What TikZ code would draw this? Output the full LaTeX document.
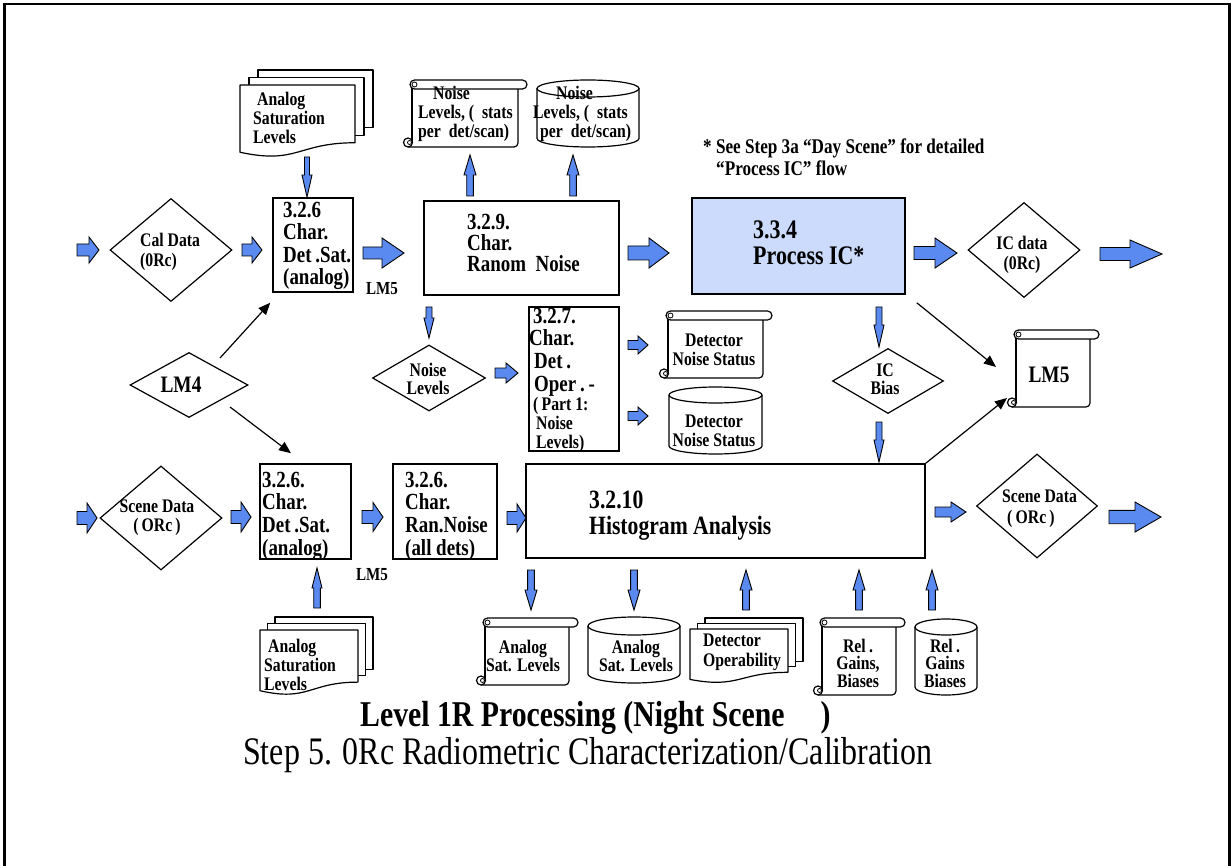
\documentclass[tikz,border=0pt]{standalone}
\usepackage{fontspec}
\setmainfont{Liberation Serif}[FakeStretch=0.82]
\usetikzlibrary{shapes.geometric,arrows.meta}
\definecolor{arrowblue}{RGB}{90,138,240}
\definecolor{icfill}{RGB}{204,219,252}
\newcommand{\fsz}[2]{\fontsize{#1}{#2}\selectfont}
% block arrow: angle, tail x, tail y, length, half shaft, half head, head length
\newcommand{\blkarrow}[7]{%
  \begin{scope}[shift={(#2,#3)},rotate=#1]
    \draw[barrow] (0,-#5) -- (#4-#7,-#5) -- (#4-#7,-#6) -- (#4,0) -- (#4-#7,#6) -- (#4-#7,#5) -- (0,#5) -- cycle;
  \end{scope}}
% vertical scroll: x0 y0 x1 y1
\newcommand{\scrollsym}[4]{%
  \fill[white] (#1+9,#2+4) rectangle (#3-9,#4);
  \draw[shp, rounded corners=4pt] (#1+5,#4) -- (#3-9,#4) -- (#3-9,#2+6);
  \draw[shp] (#1+9,#2+6) -- (#1+9,#4-4);
  \draw[shp, fill=white] (#1+5,#4-4.5) circle[radius=4.5];
  \draw[shp, line width=0.8pt] (#1+6.5,#4-4.5) circle[radius=2];
  \draw[shp, fill=white, rounded corners=4.5pt] (#1+7,#2) rectangle (#3,#2+9);
  \draw[shp, line width=0.8pt] (#1+11.5,#2+4.5) circle[radius=2.5];}
% cylinder: x0 y0 x1 y1 ry
\newcommand{\cylsym}[5]{%
  \pgfmathsetmacro\cylcx{(#1+#3)/2}
  \pgfmathsetmacro\cylrx{(#3-#1)/2}
  \draw[shp, fill=white] (#1,#2+#5) -- (#1,#4-#5)
    .. controls (#1,#4-#5+0.552*#5) and (\cylcx-0.552*\cylrx,#4) .. (\cylcx,#4)
    .. controls (\cylcx+0.552*\cylrx,#4) and (#3,#4-#5+0.552*#5) .. (#3,#4-#5)
    -- (#3,#2+#5);
  \draw[shp] (\cylcx,#2+#5) ellipse[x radius=\cylrx, y radius=#5];}
% stacked documents: front page x0 y0 x1 y1, page offset dx dy
\newcommand{\multidoc}[6]{%
  \pgfmathsetmacro\mdyr{#2+0.802*(#4-#2)}
  \pgfmathsetmacro\mdyl{#2+0.934*(#4-#2)}
  \pgfmathsetmacro\mdylow{#2+1.107*(#4-#2)}
  \pgfmathsetmacro\mdcx{(#1+#3)/2}
  \draw[shp, fill=white] (#1+2*#5,#2-2*#6) rectangle (#3+2*#5,\mdyr-2*#6);
  \draw[shp, fill=white] (#1+#5,#2-#6) rectangle (#3+#5,\mdyr-#6);
  \draw[shp, fill=white] (#1,#2) -- (#3,#2) -- (#3,\mdyr)
    .. controls (\mdcx,\mdyr) and (\mdcx,\mdylow) .. (#1,\mdyl) -- cycle;}
\begin{document}
\begin{tikzpicture}[x=1pt,y=-1pt,
  procbox/.style={draw, line width=1.5pt, inner sep=0pt},
  decision/.style={diamond, draw, line width=1.2pt, inner sep=0pt},
  shp/.style={draw, line width=1.2pt, line join=round},
  barrow/.style={draw=black, fill=arrowblue, line width=0.9pt, line join=miter},
  conn/.style={line width=1.2pt, -{Triangle[length=12pt,width=10pt]}},
  sm/.style={font=\fsz{19.2}{19}\bfseries, align=left, inner sep=0pt},
  smc/.style={sm, align=center},
  md/.style={font=\fsz{23.1}{22.6}\bfseries, align=left, inner sep=0pt},
  lg/.style={font=\fsz{26.8}{25.5}\bfseries, align=left, inner sep=0pt}]
\useasboundingbox (0,0) rectangle (1231,866);
% page frame
\draw[line width=2.2pt] (4.5,880) -- (4.5,4) -- (1229.5,4) -- (1229.5,880);

% ---------- process boxes ----------
\node[procbox, minimum width=80pt, minimum height=94pt] (b326a) at (313,245) {};
\node[procbox, minimum width=195pt, minimum height=94pt] (b329) at (521.5,248) {};
\node[procbox, fill=icfill, minimum width=213pt, minimum height=96pt] (b334) at (798.5,246) {};
\node[procbox, minimum width=90pt, minimum height=144pt] (b327) at (574,379) {};
\node[procbox, minimum width=91pt, minimum height=95pt] (b326b) at (305.5,511.5) {};
\node[procbox, minimum width=104pt, minimum height=95pt] (b326c) at (445,511.5) {};
\node[procbox, minimum width=399pt, minimum height=94pt] (hist) at (725.5,511) {};

% ---------- data diamonds ----------
\node[decision, minimum width=122pt, minimum height=103pt] (cal) at (171,250) {};
\node[decision, minimum width=112pt, minimum height=95pt] (icdata) at (1024,250) {};
\node[decision, minimum width=118pt, minimum height=65pt] (lm4) at (189,385) {};
\node[decision, minimum width=113pt, minimum height=66pt] (noiselv) at (429,378) {};
\node[decision, minimum width=111pt, minimum height=65pt] (icbias) at (888,381) {};
\node[decision, minimum width=122pt, minimum height=104pt] (scenel) at (161,518) {};
\node[decision, minimum width=121pt, minimum height=104pt] (scener) at (1037,506) {};

% ---------- stores ----------
\multidoc{240}{85}{355}{157}{9}{7.5}
\scrollsym{403}{80}{527}{147}
\cylsym{537}{80}{639}{147}{8.5}
\scrollsym{659}{311}{772}{378}
\cylsym{669}{387}{762}{454}{8}
\scrollsym{1007}{330}{1099}{407}
\multidoc{260}{630}{358}{695}{7.5}{6.5}
\scrollsym{476}{618}{578}{685}
\cylsym{588}{617}{680}{683}{9}
\multidoc{690}{629}{788}{683}{7.5}{5.5}
\scrollsym{813}{618}{905}{695}
\cylsym{915}{619}{977}{695}{8}

% ---------- block arrows ----------
% top flow
\blkarrow{0}{77}{250}{22}{6}{13}{10}
\blkarrow{0}{242}{250}{20}{6}{13}{10}
\blkarrow{0}{363}{253}{41}{6}{15}{22}
\blkarrow{0}{628}{253}{41}{7}{15}{20}
\blkarrow{0}{914}{253}{43}{6.5}{15}{22}
\blkarrow{0}{1100}{254}{62}{6.5}{14}{32}
\blkarrow{-90}{307}{157}{40}{2.5}{5}{22}
\blkarrow{90}{470}{196}{41}{3.3}{6}{20}
\blkarrow{90}{573}{196}{41}{3.3}{6}{20}
% middle flow
\blkarrow{-90}{429}{307}{31}{3}{5}{20}
\blkarrow{0}{495}{373}{23}{5}{10}{12}
\blkarrow{0}{628}{345}{20}{4.5}{9}{10}
\blkarrow{0}{628}{416}{20}{4.5}{9}{10}
\blkarrow{-90}{879}{307}{40}{3}{5}{22}
\blkarrow{-90}{879}{422}{40}{3}{5}{22}
% bottom flow
\blkarrow{0}{77}{518}{20}{6.5}{15}{10}
\blkarrow{0}{231}{517}{20}{6.5}{15}{10}
\blkarrow{0}{362}{517}{21}{6.5}{14.5}{10}
\blkarrow{0}{507}{518}{19}{6.5}{14}{9}
\blkarrow{0}{935}{512}{31}{5}{10}{15}
\blkarrow{0}{1109}{517}{52}{6.7}{15}{26}
\blkarrow{90}{317}{608}{40}{3.3}{5}{20}
\blkarrow{-90}{531}{570}{40}{3.4}{6}{20}
\blkarrow{-90}{634}{570}{40}{3.4}{6}{20}
\blkarrow{90}{746}{610}{40}{3.4}{6}{20}
\blkarrow{90}{859}{610}{40}{3.4}{6}{20}
\blkarrow{90}{932}{610}{40}{3.4}{6}{20}

% ---------- texts ----------
\node[sm, anchor=west] (tlmdT) at (253,117.5) {\hspace*{4pt}Analog\\Saturation\\Levels};
\node[md, anchor=west] (b326aT) at (283,246) {3.2.6\\Char.\\Det\,.Sat.\\(analog)};
\node[font=\fsz{18.4}{18}\bfseries, inner sep=0pt] (lm5aT) at (382,289) {LM5};
\node[md, font=\fsz{23.1}{21}\bfseries, anchor=west] (b329T) at (467,243) {3.2.9.\\Char.\\Ranom~~Noise};
\node[sm, anchor=west] (nsT) at (418,114) {\hspace*{15pt}Noise\\Levels, (~~stats\\per~~det/scan)};
\node[sm, anchor=west] (ncT) at (533,114) {\hspace*{23pt}Noise\\Levels, (~~stats\\\hspace*{7pt}per~~det/scan)};
\node[lg, anchor=west] (b334T) at (753,243) {3.3.4\\Process IC*};
\node[sm, font=\fsz{20.9}{22}\bfseries, anchor=west] (noteT) at (703,157) {* See Step 3a “Day Scene” for detailed\\\hspace*{13pt}“Process IC” flow};
\node[smc, font=\fsz{19.2}{20}\bfseries] (icdataT) at (1022,255) {IC data\\(0Rc)};
\node[sm, font=\fsz{19.2}{20}\bfseries, anchor=west] (calT) at (140,252) {Cal Data\\(0Rc)};
\node[font=\fsz{23.6}{22}\bfseries, inner sep=0pt] (lm4T) at (181,385) {LM4};
\node[smc, font=\fsz{19.2}{18}\bfseries] (noiselvT) at (428,379) {Noise\\Levels};
\node[md, anchor=west] (b327Ta) at (529,352) {\hspace*{4pt}3.2.7.\\Char.\\\hspace*{5pt}Det\,.\\\hspace*{5pt}Oper\,.\,-};
\node[sm, anchor=west] (b327Tb) at (533,425) {(\,Part 1:\\\hspace*{3pt}Noise\\\hspace*{3pt}Levels)};
\node[smc] (dsT) at (714,350) {Detector\\Noise Status};
\node[smc] (dcT) at (714,431) {Detector\\Noise Status};
\node[smc, font=\fsz{19.2}{18}\bfseries] (icbiasT) at (885,379) {IC\\Bias};
\node[font=\fsz{23.6}{22}\bfseries, inner sep=0pt] (lm5T) at (1049,375) {LM5};
\node[smc] (scenelT) at (157,518) {Scene Data\\(\,ORc\,)};
\node[md, anchor=west] (b326bT) at (262,516) {3.2.6.\\Char.\\Det\,.Sat.\\(analog)};
\node[md, anchor=west] (b326cT) at (405,516) {3.2.6.\\Char.\\Ran.Noise\\(all~dets)};
\node[font=\fsz{18.4}{18}\bfseries, inner sep=0pt] (lm5bT) at (372,575) {LM5};
\node[sm, anchor=west] (blmdT) at (264,665) {\hspace*{4pt}Analog\\Saturation\\Levels};
\node[lg, font=\fsz{26.4}{26}\bfseries, anchor=west] (histT) at (589,516) {3.2.10\\Histogram Analysis};
\node[sm, font=\fsz{19.2}{21}\bfseries, anchor=west] (scenerT) at (1002,509) {Scene Data\\\hspace*{5pt}(\,ORc\,)};
\node[smc, font=\fsz{19.2}{18}\bfseries] (asT) at (523,656) {Analog\\Sat. Levels};
\node[smc, font=\fsz{19.2}{18}\bfseries] (acT) at (636,656) {Analog\\Sat. Levels};
\node[sm, font=\fsz{19.2}{20}\bfseries, anchor=west] (doT) at (703,652) {Detector\\Operability};
\node[smc, font=\fsz{19.2}{17.5}\bfseries] (rsT) at (858,663) {Rel\,.\\Gains,\\Biases};
\node[smc, font=\fsz{19.2}{17.5}\bfseries] (rcT) at (945,663) {Rel\,.\\Gains\\Biases};
\node[font=\fsz{36.3}{38}\bfseries, inner sep=0pt, anchor=west] (titleT) at (360,718) {Level 1R Processing (Night Scene\hspace{36pt})};
\node[font=\fsz{39}{40}, inner sep=0pt, anchor=west] (subT) at (243,755) {Step 5. 0Rc Radiometric Characterization/Calibration};

% ---------- control connectors ----------
\draw[conn] ([shift={(31,-27)}]lm4.center) -- ([shift={(-2,10)}]b326a.south west);
\draw[conn] ([shift={(41,22)}]lm4.center) -- ([shift={(-14.5,-10)}]b326b.north);
\draw[conn] ([shift={(11,8)}]b334.south east) -- ([shift={(-53,-8)}]lm5T.center);
\draw[conn] (hist.north east) -- ([shift={(-42,23)}]lm5T.center);
\end{tikzpicture}
\end{document}
